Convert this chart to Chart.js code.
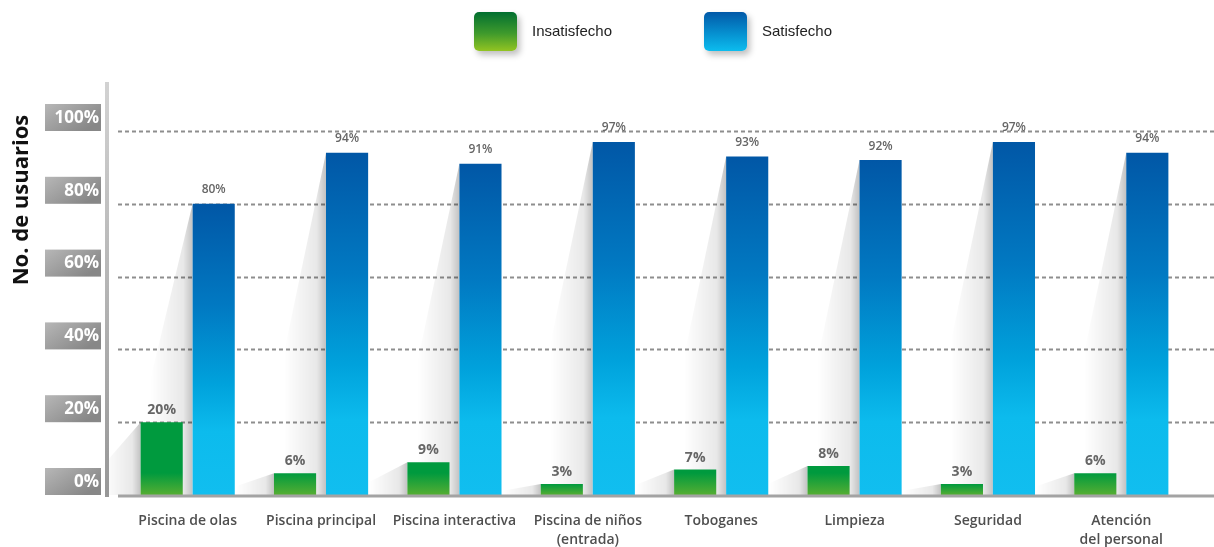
<!DOCTYPE html>
<html lang="es">
<head>
<meta charset="utf-8">
<title>Satisfacción de usuarios</title>
<script src="https://cdn.jsdelivr.net/npm/chart.js@4.4.1/dist/chart.umd.min.js"></script>
<style>
body{margin:0;background:#fff;}
#wrap{position:relative;width:1214px;height:547px;}
.leg{position:absolute;top:12px;height:40px;font-family:"Liberation Sans",Arial,sans-serif;font-size:15px;color:#222;}
.leg .box{position:absolute;left:0;top:0;width:43px;height:39px;border-radius:5px;box-shadow:3px 4px 6px rgba(0,0,0,0.25);}
.leg span{position:absolute;left:58px;top:10px;white-space:nowrap;}
</style>
</head>
<body>
<div id="wrap">
<canvas id="chart" width="1214" height="547"></canvas>
<div class="leg" style="left:474px"><div class="box" style="background:linear-gradient(#016f30,#3f9a2c 55%,#92c422)"></div><span>Insatisfecho</span></div>
<div class="leg" style="left:704px"><div class="box" style="background:linear-gradient(#0259a8,#0690d0 55%,#0cbcee)"></div><span>Satisfecho</span></div>
</div>
<script>
const categorias = [
  "Piscina de olas",
  "Piscina principal",
  "Piscina interactiva",
  ["Piscina de niños", "(entrada)"],
  "Toboganes",
  "Limpieza",
  "Seguridad",
  ["Atención", "del personal"]
];
const insatisfecho = [20, 6, 9, 3, 7, 8, 3, 6];
const satisfecho = [80, 94, 91, 97, 93, 92, 97, 94];
const yTicks = [0, 20, 40, 60, 80, 100];

// gradient for each bar, from its own top down to the baseline
function barGradient(ctx, stops){
  const chart = ctx.chart;
  const {chartArea} = chart;
  if(!chartArea || ctx.raw === undefined) return "#0a9ad8";
  const y = chart.scales.y;
  const top = y.getPixelForValue(ctx.raw);
  const bottom = y.getPixelForValue(0);
  const g = chart.ctx.createLinearGradient(0, top, 0, bottom);
  stops(top, bottom).forEach(s => g.addColorStop(s[0], s[1]));
  return g;
}

const greenStops = (top, bottom) => {
  const h = Math.max(bottom - top, 1);
  const f = Math.max(0, 1 - 22 / h);
  return [[0, "#009a3e"], [f, "#009a3e"], [1, "#56ae32"]];
};
const blueStops = () => [[0, "#0157a6"], [0.35, "#0179c2"], [0.62, "#00a2dc"], [0.78, "#0cbbed"], [1, "#11beef"]];

const GRID_LEFT = 118;

const decor = {
  id: "decor",
  beforeDatasetsDraw(chart){
    const c = chart.ctx;
    const y = chart.scales.y;
    c.save();
    // dashed gridlines
    c.strokeStyle = "#8e8e8e";
    c.lineWidth = 2;
    c.setLineDash([4, 3]);
    yTicks.forEach(v => {
      if(v === 0) return;
      const py = Math.round(y.getPixelForValue(v)) + 0.5;
      c.beginPath();
      c.moveTo(GRID_LEFT, py);
      c.lineTo(chart.width, py);
      c.stroke();
    });
    c.setLineDash([]);
    // soft long shadows on the left side of every bar
    chart.data.datasets.forEach((ds, i) => {
      chart.getDatasetMeta(i).data.forEach(bar => {
        const left = bar.x - bar.width / 2;
        const top = bar.y;
        const bottom = bar.base;
        const d = i === 0 ? 38 : 42;
        const y2 = Math.min(bottom, top + Math.min((bottom - top) * 0.6, 200));
        const g = c.createLinearGradient(left, 0, left - d, 0);
        g.addColorStop(0, "rgba(0,0,0,0.24)");
        g.addColorStop(0.22, "rgba(0,0,0,0.09)");
        g.addColorStop(1, "rgba(0,0,0,0)");
        c.fillStyle = g;
        c.beginPath();
        c.moveTo(left, top);
        c.lineTo(left - d, y2);
        c.lineTo(left - d, bottom);
        c.lineTo(left, bottom);
        c.closePath();
        c.fill();
      });
    });
    c.restore();
  },
  afterDatasetsDraw(chart){
    const c = chart.ctx;
    const y = chart.scales.y;
    const area = chart.chartArea;
    c.save();
    // baseline
    c.strokeStyle = "#a3a3a3";
    c.lineWidth = 3;
    c.beginPath();
    c.moveTo(GRID_LEFT, area.bottom + 1);
    c.lineTo(chart.width, area.bottom + 1);
    c.stroke();
    // vertical axis bar
    const ag = c.createLinearGradient(0, 82, 0, area.bottom);
    ag.addColorStop(0, "#d2d2d2");
    ag.addColorStop(1, "#979797");
    c.fillStyle = ag;
    c.fillRect(105, 82, 4, area.bottom - 82 + 2);
    // tick boxes
    c.font = "bold 17px 'Open Sans', Lato, sans-serif";
    c.textAlign = "right";
    c.textBaseline = "middle";
    yTicks.forEach(v => {
      const py = y.getPixelForValue(v);
      const bt = py - 27;
      const bg = c.createLinearGradient(45, bt, 70, py + 10);
      bg.addColorStop(0, "#b7b7b7");
      bg.addColorStop(1, "#878787");
      c.fillStyle = bg;
      c.fillRect(45, bt, 56, 27);
      c.fillStyle = "#fff";
      c.fillText(v + "%", 99, py - 13);
    });
    // axis title
    c.save();
    c.translate(22, 200);
    c.rotate(-Math.PI / 2);
    c.textAlign = "center";
    c.textBaseline = "middle";
    c.fillStyle = "#111";
    c.font = "bold 22px 'Open Sans', Lato, sans-serif";
    c.fillText("No. de usuarios", 0, 0);
    c.restore();
    // value labels
    c.fillStyle = "#666";
    c.textAlign = "center";
    c.textBaseline = "bottom";
    chart.data.datasets.forEach((ds, i) => {
      c.font = i === 0 ? "bold 14px 'Open Sans', sans-serif" : "600 12px 'Open Sans', sans-serif";
      chart.getDatasetMeta(i).data.forEach((bar, j) => {
        c.fillText(ds.data[j] + "%", bar.x, bar.y - (i === 0 ? 5 : 8));
      });
    });
    c.restore();
  }
};

new Chart(document.getElementById("chart"), {
  type: "bar",
  data: {
    labels: categorias,
    datasets: [
      {
        label: "Insatisfecho",
        data: insatisfecho,
        backgroundColor: ctx => barGradient(ctx, greenStops)
      },
      {
        label: "Satisfecho",
        data: satisfecho,
        backgroundColor: ctx => barGradient(ctx, blueStops)
      }
    ]
  },
  options: {
    responsive: false,
    devicePixelRatio: 1,
    animation: false,
    datasets: {bar: {categoryPercentage: 0.78, barPercentage: 0.81}},
    layout: {padding: {left: 121, right: 26, top: 131, bottom: 0}},
    plugins: {legend: {display: false}, tooltip: {enabled: false}},
    scales: {
      x: {
        grid: {display: false},
        border: {display: false},
        afterFit(scale){ scale.height = 52; },
        ticks: {
          color: "#4f4f4f",
          padding: 9,
          maxRotation: 0,
          autoSkip: false,
          font: {family: "'Open Sans', Lato, sans-serif", size: 14, weight: 600, lineHeight: 1.35}
        }
      },
      y: {
        display: false,
        min: 0,
        max: 100,
        ticks: {stepSize: 20}
      }
    }
  },
  plugins: [decor]
});
</script>
</body>
</html>
